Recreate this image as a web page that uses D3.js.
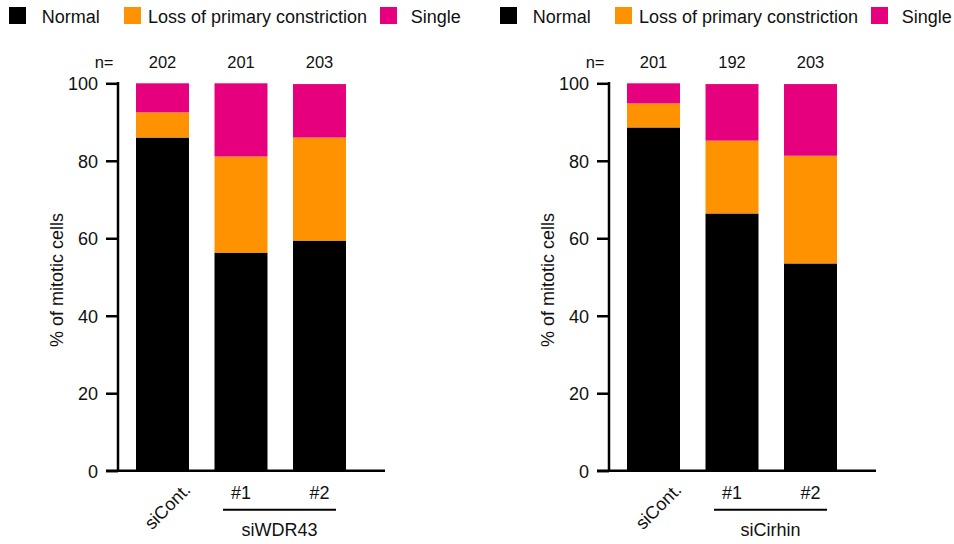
<!DOCTYPE html>
<html>
<head>
<meta charset="utf-8">
<script src="https://cdn.jsdelivr.net/npm/d3@7"></script>
<style>
  html, body { margin: 0; padding: 0; background: #fff; }
  svg { display: block; }
  text { font-family: "Liberation Sans", Arial, Helvetica, sans-serif; fill: #111; }
</style>
</head>
<body>
<svg id="chart" width="954" height="544"></svg>
<script>
// ---- data ----
const seriesNames = ["Normal", "Loss of primary constriction", "Single"];
const categories = ["siCont.", "#1", "#2"];
const yTicks = [0, 20, 40, 60, 80, 100];

const wdrGroup = "siWDR43";
const wdrCounts = ["202", "201", "203"];
const wdrNormal = [86.0, 56.3, 59.4];
const wdrLoss   = [6.5, 24.8, 26.6];
const wdrSingle = [7.5, 18.9, 13.8];

const cirGroup = "siCirhin";
const cirCounts = ["201", "192", "203"];
const cirNormal = [88.6, 66.4, 53.5];
const cirLoss   = [6.2, 18.8, 27.8];
const cirSingle = [5.2, 14.6, 18.5];

const colors = ["#000000", "#FF9200", "#E6007E"];

const svg = d3.select("#chart");

function drawPanel(ox, group, counts, normal, loss, single) {
  const g = svg.append("g").attr("transform", `translate(${ox},0)`);

  const y = d3.scaleLinear().domain([0, 100]).range([470.7, 83.3]);
  const x = d3.scaleBand().domain(categories).range([136, 346])
    .paddingInner(0.325).paddingOuter(0);

  // legend
  const legX = [9, 124, 380];
  const legTX = [41.7, 148, 410.7];
  seriesNames.forEach((n, i) => {
    g.append("rect").attr("x", legX[i]).attr("y", 7).attr("width", 17).attr("height", 17)
      .attr("fill", colors[i]);
    g.append("text").attr("x", legTX[i]).attr("y", 22.5)
      .attr("font-size", 18).text(n);
  });

  // stacked data
  const rows = categories.map((c, i) => ({cat: c, s0: normal[i], s1: loss[i], s2: single[i]}));
  const stack = d3.stack().keys(["s0", "s1", "s2"])(rows);
  stack.forEach((layer, li) => {
    g.append("g").selectAll("rect").data(layer).join("rect")
      .attr("x", d => x(d.data.cat))
      .attr("width", x.bandwidth())
      .attr("y", d => y(d[1]))
      .attr("height", d => y(d[0]) - y(d[1]))
      .attr("fill", colors[li]);
  });

  // y axis
  const yAxis = d3.axisLeft(y).tickValues(yTicks).tickSize(12).tickPadding(8).tickFormat(d3.format("d"));
  const ya = g.append("g").attr("transform", "translate(118,0)").call(yAxis);
  ya.select(".domain").remove();
  ya.append("line").attr("x1", 0).attr("x2", 0).attr("y1", y(100) - 1.2).attr("y2", y(0) + 1.2)
    .attr("stroke", "#000").attr("stroke-width", 2.5);
  ya.selectAll(".tick line").attr("stroke", "#000").attr("stroke-width", 2.5);
  ya.selectAll(".tick text").attr("font-size", 18).attr("fill", "#111")
    .attr("font-family", '"Liberation Sans", Arial, sans-serif').attr("dy", "0.35em");

  // x baseline
  g.append("line").attr("x1", 106).attr("x2", 385).attr("y1", y(0)).attr("y2", y(0))
    .attr("stroke", "#000").attr("stroke-width", 2.5);

  // y label
  g.append("text").attr("transform", `translate(62.5,280) rotate(-90)`)
    .attr("text-anchor", "middle").attr("font-size", 18).text("% of mitotic cells");

  // n= labels
  g.append("text").attr("x", 113.5).attr("y", 67.7).attr("text-anchor", "end")
    .attr("font-size", 16.5).text("n=");
  g.selectAll(".nlab").data(categories).join("text")
    .attr("x", (c) => x(c) + x.bandwidth() / 2)
    .attr("y", 67.7).attr("text-anchor", "middle").attr("font-size", 16.5)
    .text((c, i) => counts[i]);

  // x labels
  const c0 = x(categories[0]) + x.bandwidth() / 2;
  g.append("text").attr("transform", `translate(${c0 + 29},491) rotate(-45)`)
    .attr("text-anchor", "end").attr("font-size", 18).text(categories[0]);
  categories.slice(1).forEach(c => {
    g.append("text").attr("x", x(c) + x.bandwidth() / 2).attr("y", 499)
      .attr("text-anchor", "middle").attr("font-size", 18).text(c);
  });
  g.append("line").attr("x1", 223).attr("x2", 336).attr("y1", 509.7).attr("y2", 509.7)
    .attr("stroke", "#000").attr("stroke-width", 2);
  g.append("text").attr("x", 279.5).attr("y", 536).attr("text-anchor", "middle")
    .attr("font-size", 18).text(group);
}

drawPanel(0, wdrGroup, wdrCounts, wdrNormal, wdrLoss, wdrSingle);
drawPanel(491, cirGroup, cirCounts, cirNormal, cirLoss, cirSingle);
</script>
</body>
</html>
